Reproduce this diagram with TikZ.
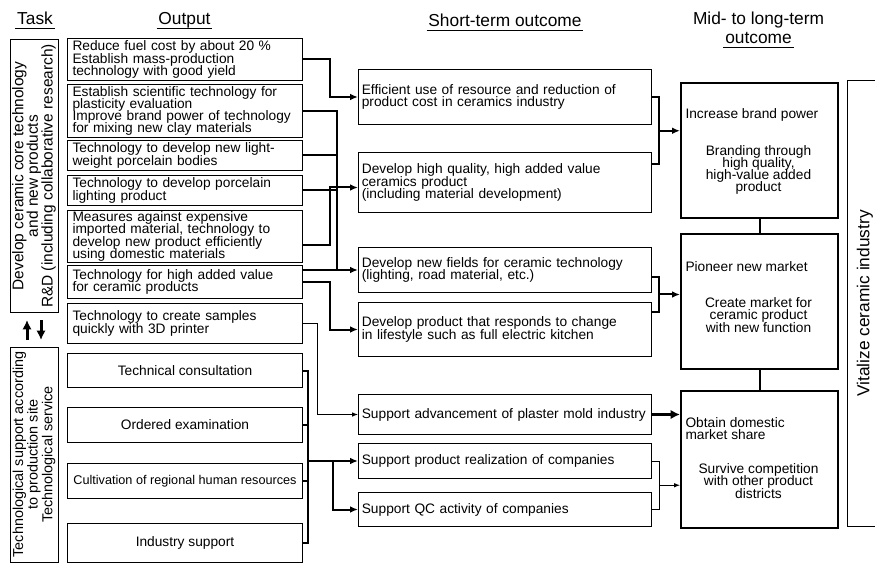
\documentclass[tikz,border=0pt]{standalone}
\usepackage{fontspec}
\setmainfont{Liberation Sans}
\usetikzlibrary{arrows.meta,calc}
\normallineskiplimit=-6pt
\lineskiplimit=-6pt

\tikzset{every picture/.style={line width=0.75pt}}
\tikzset{
  txt/.style={font=\fontsize{10.3}{9.2}\selectfont},
  hdr/.style={font=\fontsize{13}{13}\selectfont,inner xsep=1pt,inner ysep=0pt,text height=9.5pt,text depth=2.5pt},
  outbox/.style={draw,txt,align=left,text width=168.75pt,inner xsep=3.75pt,inner ysep=0.5pt,minimum width=176.25pt,anchor=north west},
  svcbox/.style={draw,txt,align=center,inner ysep=0.5pt,minimum width=176.25pt,anchor=north west},
  shortbox/.style={draw,txt,align=left,text width=214.75pt,inner xsep=2.5pt,inner ysep=0.5pt,minimum width=219.75pt,anchor=north west},
  midbox/.style={draw,line width=1.5pt,minimum width=117.75pt,anchor=north west},
  taskbox/.style={draw,rotate=90,align=center,font=\fontsize{10.8}{11}\selectfont,inner xsep=2pt,inner ysep=1pt,minimum height=36pt},
  thk/.style={line width=1.5pt},
  thn/.style={line width=0.75pt},
  arr/.style={-{Latex[length=6pt,width=5pt]}},
  arrs/.style={-{Latex[length=4.5pt,width=3.5pt]}},
  arrb/.style={-{Latex[length=7pt,width=7pt]}},
}

\begin{document}
\normallineskiplimit=-6pt
\lineskiplimit=-6pt
\begin{tikzpicture}[x=0.75pt,y=0.75pt,yscale=-1,xscale=1]
\useasboundingbox (0,0) rectangle (875,563);

% Headers
\draw (35,25) node [hdr,anchor=base] (hTask) {Task};
\draw (hTask.south west) -- (hTask.south east);
\draw (184.5,25) node [hdr,anchor=base] (hOut) {Output};
\draw (hOut.south west) -- (hOut.south east);
\draw (505,26.5) node [hdr,anchor=base] (hShort) {Short-term outcome};
\draw (hShort.south west) -- (hShort.south east);
\draw (758.5,25) node [hdr,anchor=base] (hMid) {Mid- to long-term};
\draw (758.5,44) node [hdr,anchor=base] (hMid2) {outcome};
\draw (hMid2.south west) -- (hMid2.south east);

%Shape: Rectangle (task)
\draw (34,176) node [taskbox,minimum width=204pt,font=\fontsize{11.6}{11}\selectfont] (t1) {Develop ceramic core technology\\and new products\\R\&D (including collaborative research)};
\draw (34,454.5) node [taskbox,minimum width=161.25pt] (t2) {Technological support according\\to production site\\Technological service};
\coordinate (up1) at (27,340);
\coordinate (up2) at (27,320);
\coordinate (dn1) at (41,320);
\coordinate (dn2) at (41,340);
\draw [line width=2.25pt,-{Latex[length=7pt,width=7pt]}] (up1) -- (up2);
\draw [line width=2.25pt,-{Latex[length=7pt,width=7pt]}] (dn1) -- (dn2);

%Shape: Rectangle (output)
\draw (67,38) node [outbox,minimum height=31.5pt] (o1) {Reduce fuel cost by about 20 \%\\Establish mass-production\\technology with good yield};
\draw (67,84) node [outbox,minimum height=39.75pt] (o2) {Establish scientific technology for\\plasticity evaluation\\Improve brand power of technology\\for mixing new clay materials};
\draw (67,140) node [outbox,minimum height=22.5pt] (o3) {Technology to develop new light-\\weight porcelain bodies};
\draw (67,175) node [outbox,minimum height=22.5pt] (o4) {Technology to develop porcelain\\lighting product};
\draw (67,210) node [outbox,minimum height=39pt] (o5) {Measures against expensive\\imported material, technology to\\develop new product efficiently\\using domestic materials};
\draw (67,265) node [outbox,minimum height=24.75pt] (o6) {Technology for high added value\\for ceramic products};
\draw (67,303) node [outbox,minimum height=30pt] (o7) {Technology to create samples\\quickly with 3D printer};
\draw (67,353) node [svcbox,minimum height=25.5pt] (o8) {Technical consultation};
\draw (67,407) node [svcbox,minimum height=26.25pt] (o9) {Ordered examination};
\draw (67,463) node [svcbox,minimum height=26.25pt,font=\fontsize{9.5}{9.2}\selectfont] (o10) {Cultivation of regional human resources};
\draw (67,523) node [svcbox,minimum height=29.25pt] (o11) {Industry support};

%Shape: Rectangle (short-term)
\draw (358,69) node [shortbox,minimum height=41.25pt] (s1) {Efficient use of resource and reduction of\\product cost in ceramics industry};
\draw (358,152) node [shortbox,minimum height=45pt] (s2) {Develop high quality, high added value\\ceramics product\\(including material development)};
\draw (358,247) node [shortbox,minimum height=33.75pt] (s3) {Develop new fields for ceramic technology\\(lighting, road material, etc.)};
\draw (358,302) node [shortbox,minimum height=40.5pt] (s4) {Develop product that responds to change\\in lifestyle such as full electric kitchen};
\draw (358,394) node [shortbox,minimum height=30pt] (s5) {Support advancement of plaster mold industry};
\draw (358,443) node [shortbox,minimum height=26.25pt] (s6) {Support product realization of companies};
\draw (358,492) node [shortbox,minimum height=25.5pt] (s7) {Support QC activity of companies};

%Shape: Rectangle (mid- to long-term)
\draw (680,82) node [midbox,minimum height=101.25pt] (m1) {};
\draw (680,233) node [midbox,minimum height=101.25pt] (m2) {};
\draw (680,390) node [midbox,minimum height=102.75pt] (m3) {};
% Text Node
\draw (684,115) node [txt,anchor=west,inner sep=0.75pt] (m1t) {Increase brand power};
\draw (758.5,170) node [txt,align=center,inner sep=0.75pt] (m1b) {Branding through\\high quality,\\high-value added\\product};
\draw (684,267) node [txt,anchor=west,inner sep=0.75pt] (m2t) {Pioneer new market};
\draw (758.5,315) node [txt,align=center,inner sep=0.75pt] (m2b) {Create market for\\ceramic product\\with new function};
\draw (684,428.5) node [txt,anchor=west,align=left,inner sep=0.75pt] (m3t) {Obtain domestic\\market share};
\draw (758.5,481) node [txt,align=center,inner sep=0.75pt] (m3b) {Survive competition\\with other product\\districts};

%Shape: Rectangle (goal)
\draw (865,303.5) node [draw,rotate=90,minimum width=333.75pt,minimum height=27pt,font=\fontsize{13}{13}\selectfont] (vit) {Vitalize ceramic industry};

% junction columns
\coordinate (jA) at (330,0);
\coordinate (jB) at (337,0);
\coordinate (jC) at (317,0);
\coordinate (jD) at (308,0);
\coordinate (jE) at (333,0);
\coordinate (jF) at (659,0);

%Straight Lines output -> short-term
\draw [thk,arr] (o1.east) -| (jA |- s1.west) -- (s1.west);
\draw [thk] (o2.east) -| (jB |- s3.west);
\draw [thk] (o3.east) -- (o3.east -| jB);
\draw [thk] (o4.east) -- (o4.east -| jB);
\coordinate (o5r) at ([yshift=6.75pt]o5.east);
\coordinate (s2l) at ([yshift=3.75pt]s2.west);
\draw [thk,arr] (o5r) -| (jA |- s2l) -- (s2l);
\draw [thk,arr] (s3.west -| o6.east) -- (s3.west);
\draw [thk,arr] (o6.east) -| (jA |- s4.west) -- (s4.west);
\draw [thn,arrs] (o7.east) -| (jC |- s5.west) -- (s5.west);
\draw [thk] (o8.east) -| (jD |- o11.east) -- (o11.east);
\draw [thk] (o9.east) -- (o9.east -| jD);
\draw [thk] (o10.east) -- (o10.east -| jD);
\draw [thk,arr] (jD |- s6.west) -- (s6.west);
\draw [thk,arr] (jE |- s6.west) |- (s7.west);

%Straight Lines short-term -> mid
\coordinate (s2r) at ([yshift=-13.5pt]s2.east);
\coordinate (s3r) at ([yshift=5.6pt]s3.east);
\coordinate (s4r) at ([yshift=-13.5pt]s4.east);
\draw [thk] (s1.east) -- (s1.east -| jF) -- (s2r -| jF) -- (s2r);
\coordinate (k1) at ($(s1.east -| jF)!0.5!(s2r -| jF)$);
\draw [thk,arr] (k1) -- (k1 -| m1.west);
\draw [thk] (s3r) -- (s3r -| jF) -- (s4r -| jF) -- (s4r);
\coordinate (k2) at ($(s3r -| jF)!0.5!(s4r -| jF)$);
\draw [thk,arr] (k2) -- (k2 -| m2.west);
\draw [line width=2.25pt,arrb] (s5.east) -- (s5.east -| m3.west);
\draw [thn] (s6.east) -- (s6.east -| jF) -- (s7.east -| jF) -- (s7.east);
\coordinate (k3) at ($(s6.east -| jF)!0.5!(s7.east -| jF)$);
\draw [thn,arrs] (k3) -- (k3 -| m3.west);

%Straight Lines mid -> mid
\draw [thk] (m1.south) -- (m2.north);
\draw [thk] (m2.south) -- (m3.north);

\end{tikzpicture}
\end{document}
